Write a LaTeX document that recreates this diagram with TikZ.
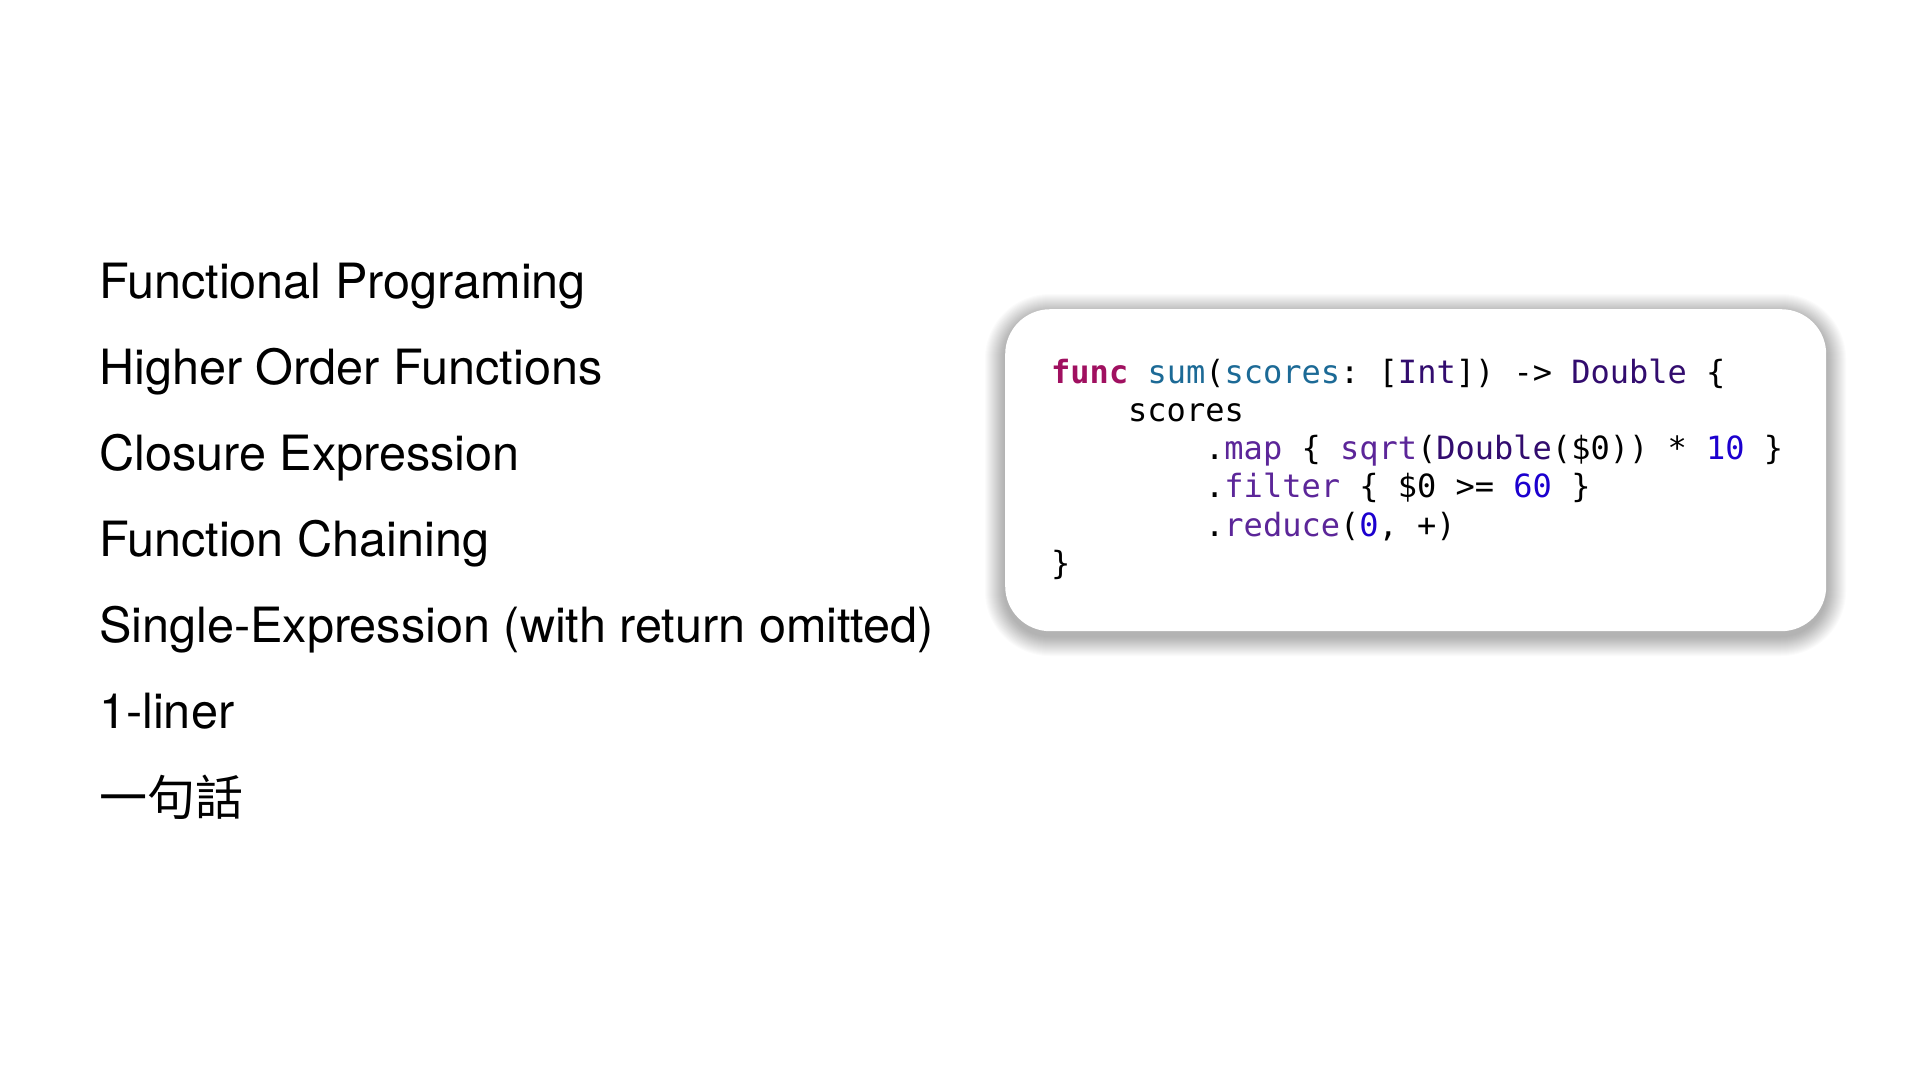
\documentclass[tikz,border=0pt]{standalone}
\usepackage{fontspec}
\setmainfont{TeX Gyre Heros}
\setmonofont{DejaVu Sans Mono}
\newfontfamily\cjk{Noto Sans CJK TC}
\definecolor{kw}{RGB}{160,16,96}
\definecolor{fnname}{RGB}{28,106,150}
\definecolor{typ}{RGB}{50,12,110}
\definecolor{meth}{RGB}{92,38,153}
\definecolor{num}{RGB}{28,0,207}
\tikzset{
  item/.style={anchor=base west, inner sep=0pt, font=\fontsize{48.6}{58}\selectfont},
  code/.style={anchor=base west, inner sep=0pt, font=\ttfamily\fontsize{32}{38}\selectfont},
  panel/.style={fill=white, rounded corners=45pt, minimum width=821pt, minimum height=322pt, anchor=north west, inner sep=0pt}
}
\begin{document}
\begin{tikzpicture}[x=1pt,y=-1pt]
\useasboundingbox (0,0) rectangle (1920,1080);
\fill[white] (0,0) rectangle (1920,1080);
% shadow
\foreach \i in {1,...,20}{
  \pgfmathsetmacro\rr{45+\i}
  \fill[black,opacity=0.016,rounded corners=\rr pt] ({1005-\i},{309-\i+5}) rectangle ({1826+\i},{631+\i+5});
}
\node[panel] (codebox) at (1005,309) {};
% left items
\node[item] (t1) at (99,298) {Functional Programing};
\node[item] (t2) at (99,384) {Higher Order Functions};
\node[item] (t3) at (99,470) {Closure Expression};
\node[item] (t4) at (99,556) {Function Chaining};
\node[item] (t5) at (99,642) {Single-Expression (with return omitted)};
\node[item] (t6) at (99,728) {1-liner};
\node[item,font=\cjk\fontsize{48}{58}\selectfont] (t7) at (99,815) {一句話};
% code
\node[code] (c1) at (1051,383) {\textbf{\textcolor{kw}{func}} \textcolor{fnname}{sum}(\textcolor{fnname}{scores}: [\textcolor{typ}{Int}]) -> \textcolor{typ}{Double} \{};
\node[code] (c2) at (1128,421) {scores};
\node[code] (c3) at (1205,459) {.\textcolor{meth}{map} \{ \textcolor{meth}{sqrt}(\textcolor{typ}{Double}(\$0)) * \textcolor{num}{10} \}};
\node[code] (c4) at (1205,497) {.\textcolor{meth}{filter} \{ \$0 >= \textcolor{num}{60} \}};
\node[code] (c5) at (1205,536) {.\textcolor{meth}{reduce}(\textcolor{num}{0}, +)};
\node[code] (c6) at (1051,574) {\}};
\end{tikzpicture}
\end{document}
